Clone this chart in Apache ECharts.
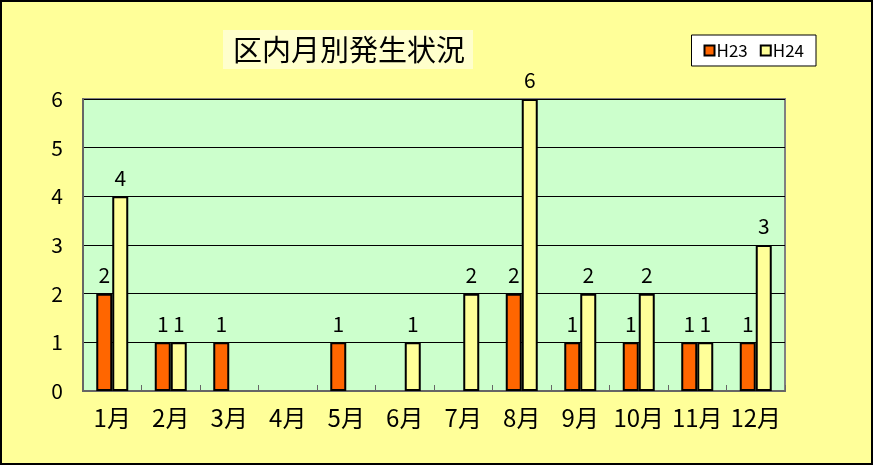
<!DOCTYPE html>
<html>
<head>
<meta charset="utf-8">
<script src="https://cdn.jsdelivr.net/npm/echarts@6/dist/echarts.min.js"></script>
<style>
	html, body { margin:0; padding:0; }
	#chart { width:873px; height:465px; }
</style>
</head>
<body>
<div id="chart"></div>
<script>
const months = ['1月','2月','3月','4月','5月','6月','7月','8月','9月','10月','11月','12月'];
const h23 = [2,1,1,0,1,0,0,2,1,1,1,1];
const h24 = [4,1,0,0,0,1,2,6,2,2,1,3];
const yTicks = [0,1,2,3,4,5,6];

const FONT = '"Noto Sans CJK JP", sans-serif';

let chart = echarts.init(document.getElementById('chart'));

// zero months have no bar at all (no outline on the baseline)
let noZero = arr => arr.map(v => v ? v : '-');

let barLabel = {
	show: true,
	position: 'top',
	distance: 8,
	fontSize: 21,
	color: '#000',
	fontFamily: FONT,
	formatter: p => p.value ? String(p.value) : ''
};

let option = {
	animation: false,
	backgroundColor: '#FFFF99',
	textStyle: { fontFamily: FONT },
	graphic: [{
		type: 'rect',
		shape: { x: 1, y: 1, width: 871, height: 463 },
		style: { fill: 'none', stroke: '#000', lineWidth: 2 },
		z: 100
	}],
	title: {
		text: '区内月別発生状況',
		left: 223,
		top: 30,
		backgroundColor: '#FFFFCC',
		padding: [5, 8, 5, 10],
		textStyle: { fontSize: 29, fontWeight: 'normal', color: '#000', fontFamily: FONT }
	},
	legend: {
		right: 57,
		top: 35,
		backgroundColor: '#fff',
		borderColor: '#000',
		borderWidth: 1,
		padding: [7, 12, 7, 12],
		itemWidth: 10,
		itemHeight: 10,
		itemGap: 12,
		icon: 'rect',
		textStyle: { fontSize: 17, color: '#000', padding: [0, 0, 0, -3] },
		data: ['H23', 'H24']
	},
	grid: {
		left: 83,
		right: 88,
		top: 99,
		bottom: 74,
		show: true,
		backgroundColor: '#CCFFCC',
		borderColor: '#808080',
		borderWidth: 2
	},
	xAxis: {
		type: 'category',
		data: months,
		axisLine: { lineStyle: { color: '#666', width: 2 } },
		axisTick: { show: true, inside: true, length: 6, lineStyle: { color: '#666' } },
		axisLabel: { fontSize: 24, color: '#000', margin: 15, interval: 0 }
	},
	yAxis: {
		type: 'value',
		min: 0,
		max: yTicks[yTicks.length - 1],
		interval: 1,
		axisLine: { show: true, lineStyle: { color: '#666', width: 2 } },
		axisTick: { show: false },
		splitLine: { lineStyle: { color: '#000', width: 1 } },
		axisLabel: { fontSize: 21, color: '#000', margin: 20 }
	},
	series: [
		{
			name: 'H23',
			type: 'bar',
			data: noZero(h23),
			barWidth: 16,
			barGap: '0%',
			itemStyle: { color: '#FF6600', borderColor: '#000', borderWidth: 2 },
			label: barLabel
		},
		{
			name: 'H24',
			type: 'bar',
			data: noZero(h24),
			barWidth: 16,
			itemStyle: { color: '#FFFF99', borderColor: '#000', borderWidth: 2 },
			label: barLabel
		}
	]
};
chart.setOption(option);
</script>
</body>
</html>
